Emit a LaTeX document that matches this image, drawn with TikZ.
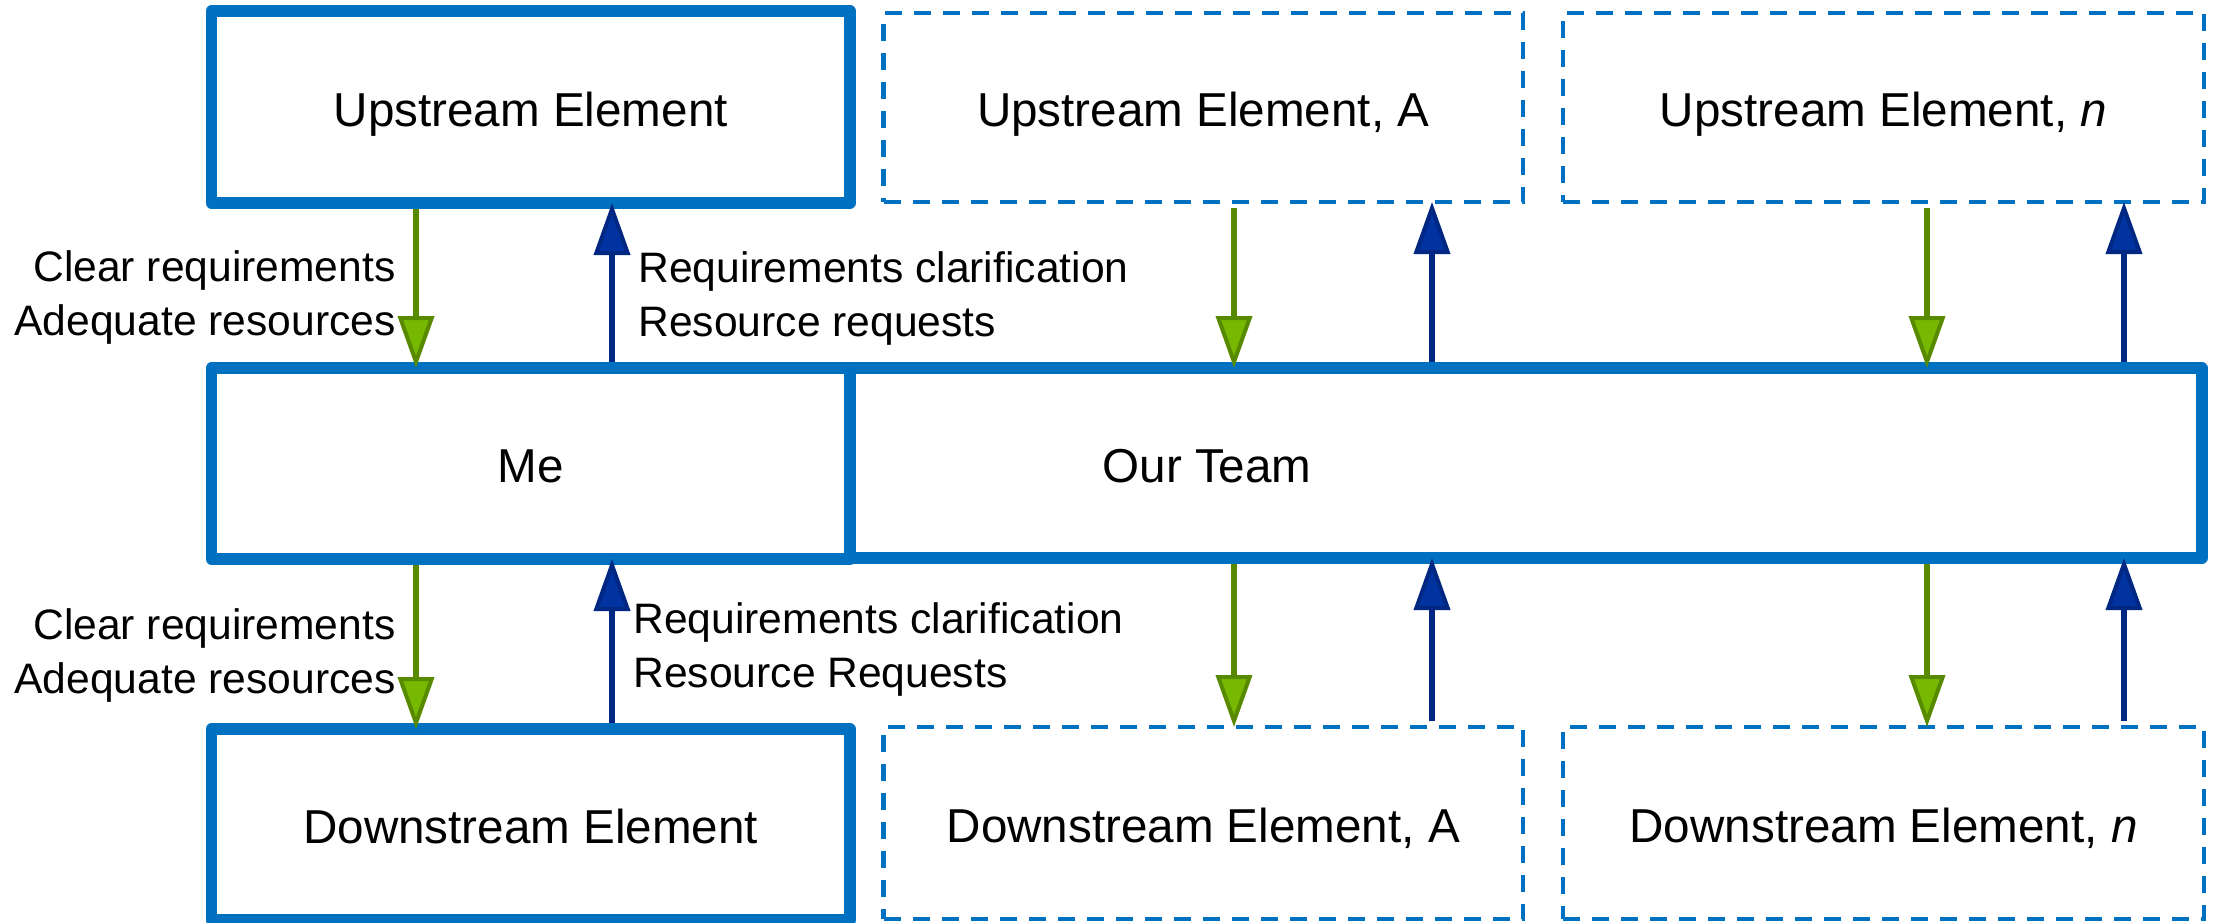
\documentclass[tikz,border=0pt]{standalone}
\usepackage{fontspec}
\setmainfont{Liberation Sans}
\usetikzlibrary{arrows.meta}
\definecolor{boxblue}{RGB}{0,112,192}
\definecolor{gline}{RGB}{88,138,0}
\definecolor{gfill}{RGB}{118,185,0}
\definecolor{bline}{RGB}{0,40,130}
\definecolor{bfill}{RGB}{0,51,160}
\begin{document}
\begin{tikzpicture}[x=0.5pt,y=-0.5pt,
 boxtext/.style={font=\fontsize{23.8}{28}\selectfont, text height=19pt, text depth=0pt, inner sep=0pt, outer sep=0pt},
 solidbox/.style={boxtext, draw=boxblue, line width=5.75pt, line join=round, minimum width=319.25pt, minimum height=96pt},
 dashbox/.style={boxtext, draw=boxblue, line width=2.25pt, dash pattern=on 8.5pt off 6pt, minimum width=320pt, minimum height=94.5pt},
 garrow/.style={draw=gline, line width=2.6pt, shorten <=3pt, -{Triangle[length=26pt,width=18pt,line width=2pt,fill=gfill]}},
 barrow/.style={draw=bline, line width=2.6pt, shorten <=3pt, -{Triangle[length=26pt,width=18pt,line width=2pt,fill=bfill]}},
 lbl/.style={font=\fontsize{21.3}{27}\selectfont, inner sep=0pt}]
\useasboundingbox (0,0) rectangle (2217,922);

% column x positions of connectors
\coordinate (g1) at (416,0);
\coordinate (b1) at (612,0);
\coordinate (g2) at (1234,0);
\coordinate (b2) at (1432,0);
\coordinate (g3) at (1927,0);
\coordinate (b3) at (2124,0);

% boxes
\node[solidbox] (up) at (530.75,107) {Upstream Element};
\node[dashbox, minimum width=319.75pt] (upA) at (1203.25,107.5) {Upstream Element, A};
\node[dashbox, minimum width=320.5pt] (upN) at (1883.5,107.5) {Upstream Element, \textit{n}};
\node[solidbox, minimum width=676pt, minimum height=95pt] (team) at (1526,463) {};
\node[solidbox, minimum height=95.5pt] (me) at (530.75,463.5) {Me};
\node[boxtext] (teamtxt) at (1207,463) {Our Team};
\node[solidbox, minimum height=95.5pt] (down) at (530.75,824.5) {Downstream Element};
\node[dashbox, minimum width=319.75pt, minimum height=96pt] (downA) at (1203.25,823) {Downstream Element, A};
\node[dashbox, minimum width=320.5pt, minimum height=96pt] (downN) at (1883.5,823) {Downstream Element, \textit{n}};

% labels
\node[lbl, anchor=east, align=right] (l1) at (396,297) {Clear requirements\\Adequate resources};
\node[lbl, anchor=west, align=left] (r1) at (638,298) {Requirements clarification\\Resource requests};
\node[lbl, anchor=east, align=right] (l2) at (396,655) {Clear requirements\\Adequate resources};
\node[lbl, anchor=west, align=left] (r2) at (633,649) {Requirements clarification\\Resource Requests};

% upper connectors
\draw[garrow] (up.south -| g1) -- (me.north -| g1);
\draw[barrow] (me.north -| b1) -- (up.south -| b1);
\draw[garrow] (upA.south -| g2) -- (team.north -| g2);
\draw[barrow] (team.north -| b2) -- (upA.south -| b2);
\draw[garrow] (upN.south -| g3) -- (team.north -| g3);
\draw[barrow] (team.north -| b3) -- (upN.south -| b3);

% lower connectors
\draw[garrow] (me.south -| g1) -- (down.north -| g1);
\draw[barrow] (down.north -| b1) -- (me.south -| b1);
\draw[garrow] (team.south -| g2) -- (downA.north -| g2);
\draw[barrow] (downA.north -| b2) -- (team.south -| b2);
\draw[garrow] (team.south -| g3) -- (downN.north -| g3);
\draw[barrow] (downN.north -| b3) -- (team.south -| b3);
\end{tikzpicture}
\end{document}
